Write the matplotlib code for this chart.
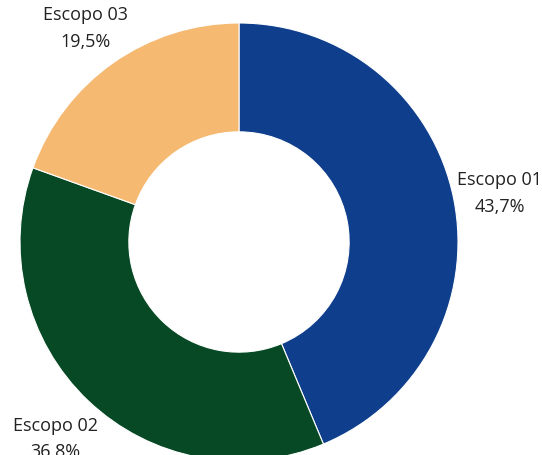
import matplotlib
matplotlib.use("Agg")
import matplotlib.pyplot as plt

categories = ["Escopo 01", "Escopo 02", "Escopo 03"]
values = [43.7, 36.8, 19.5]
value_labels = ["43,7%", "36,8%", "19,5%"]
colors = ["#0f3f8c", "#064924", "#f5b971"]

W, H = 542, 456
fig = plt.figure(figsize=(W / 100, H / 100), dpi=100)
ax = fig.add_axes([0, 0, 1, 1])
ax.set_xlim(0, W)
ax.set_ylim(0, H)
ax.set_aspect("equal")
ax.axis("off")

cx, cy, r = 239, H - 243, 219
labels = [f"{c}\n{v}" for c, v in zip(categories, value_labels)]
wedges, texts = ax.pie(values, colors=colors, startangle=90, counterclock=False,
                       center=(cx, cy), radius=r, labels=labels, labeldistance=1.215,
                       wedgeprops=dict(width=r * 0.497, edgecolor="white", linewidth=0.8),
                       textprops=dict(fontsize=13, family="Open Sans", color="#222222",
                                      ha="center", va="center", linespacing=1.6))
for t in texts:
    x, y = t.get_position()
    t.set_position((x, y - 3))
ax.set_xlim(0, W)
ax.set_ylim(0, H)
fig.savefig("out.png", dpi=100)
